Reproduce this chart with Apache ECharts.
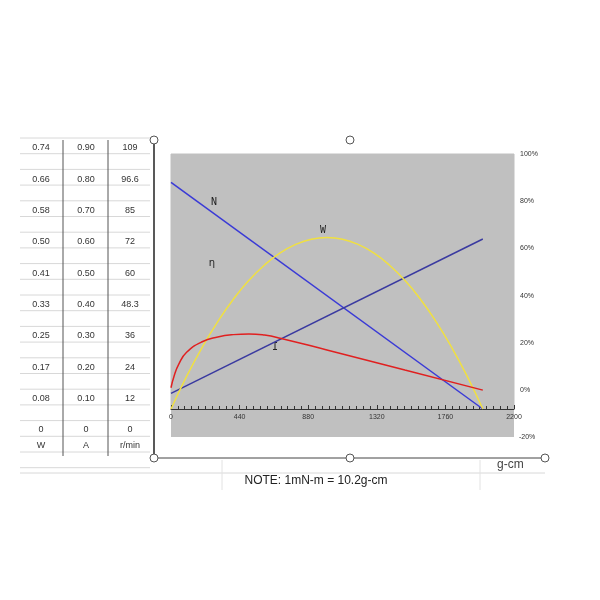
<!DOCTYPE html>
<html>
<head>
<meta charset="utf-8">
<script src="https://cdn.jsdelivr.net/npm/echarts@6/dist/echarts.min.js"></script>
<style>html,body{margin:0;background:#fff}#c{width:600px;height:600px}</style>
</head>
<body>
<div id="c"></div>
<script>
// table columns (left side of the sheet)
var colW = ['0.74','0.66','0.58','0.50','0.41','0.33','0.25','0.17','0.08','0'];
var colA = ['0.90','0.80','0.70','0.60','0.50','0.40','0.30','0.20','0.10','0'];
var colN = ['109','96.6','85','72','60','48.3','36','24','12','0'];
var units = ['W','A','r/min'];

// curves: [g-cm, percent on the right scale]
var speedN = [[0, 88], [2000, -8]];
var currentI = [[0, -1.4], [2000, 64]];
var powerW = [[0,-8],[100,5.8],[200,18.1],[300,29],[400,38.5],[500,46.5],[600,53],[700,58.1],
  [800,61.7],[900,63.9],[1000,64.6],[1100,63.9],[1200,61.7],[1300,58.1],[1400,53],[1500,46.5],
  [1600,38.5],[1700,29],[1800,18.1],[1900,5.8],[2000,-8]];
var effEta = [[0,1],[20,6],[50,11],[100,16],[200,20.5],[300,22.5],[400,23.5],[500,23.8],
  [600,23.3],[700,22],[1000,17],[1500,8.5],[2000,0]];

var chart = echarts.init(document.getElementById('c'));
var g = [];
// sheet grid lines
for (var y = 138; y < 475; y += 15.7) {
    g.push({type:'line', shape:{x1:20,y1:y,x2:150,y2:y}, style:{stroke:'#d8d8d8',lineWidth:1}});
}
g.push({type:'line', shape:{x1:20,y1:473,x2:545,y2:473}, style:{stroke:'#d8d8d8',lineWidth:1}});
g.push({type:'line', shape:{x1:63,y1:140,x2:63,y2:456}, style:{stroke:'#555',lineWidth:1}});
g.push({type:'line', shape:{x1:108,y1:140,x2:108,y2:456}, style:{stroke:'#555',lineWidth:1}});
[222, 480].forEach(function (x) {
    g.push({type:'line', shape:{x1:x,y1:460,x2:x,y2:490}, style:{stroke:'#e2e2e2',lineWidth:1}});
});
var cx = [41, 86, 130];
[colW, colA, colN].forEach(function (col, c) {
    col.forEach(function (t, i) {
        g.push({type:'text', x:cx[c], y:148 + i * 31.3, style:{text:t, fill:'#333', font:'9px Arial', align:'center', verticalAlign:'middle'}});
    });
    g.push({type:'text', x:cx[c], y:446, style:{text:units[c], fill:'#333', font:'9px Arial', align:'center', verticalAlign:'middle'}});
});
// chart frame lines and handles
g.push({type:'line', shape:{x1:154,y1:140,x2:154,y2:458}, style:{stroke:'#222',lineWidth:1.5}});
g.push({type:'line', shape:{x1:154,y1:458,x2:545,y2:458}, style:{stroke:'#444',lineWidth:1}});
[[154,140],[350,140],[154,458],[350,458],[545,458]].forEach(function (p) {
    g.push({type:'circle', shape:{cx:p[0],cy:p[1],r:4}, style:{fill:'#fff',stroke:'#555',lineWidth:1}});
});
// grey area below axis line
g.push({type:'rect', shape:{x:171,y:409,width:343,height:28}, style:{fill:'#c0c0c0'}, z:-1});
g.push({type:'text', x:519, y:437, style:{text:'-20%', fill:'#333', font:'7px Arial', verticalAlign:'middle'}});
// curve labels
g.push({type:'text', x:214, y:202, style:{text:'N', fill:'#222', font:'10px "DejaVu Sans Mono"', align:'center', verticalAlign:'middle'}});
g.push({type:'text', x:323, y:230, style:{text:'W', fill:'#222', font:'10px "DejaVu Sans Mono"', align:'center', verticalAlign:'middle'}});
g.push({type:'text', x:212, y:263, style:{text:'η', fill:'#222', font:'10px "DejaVu Sans"', align:'center', verticalAlign:'middle'}});
g.push({type:'text', x:275, y:347, style:{text:'I', fill:'#222', font:'10px "DejaVu Sans Mono"', align:'center', verticalAlign:'middle'}});
g.push({type:'text', x:497, y:465, style:{text:'g-cm', fill:'#444', font:'12px Arial', verticalAlign:'middle'}});
g.push({type:'text', x:316, y:481, style:{text:'NOTE: 1mN-m = 10.2g-cm', fill:'#222', font:'12px Arial', align:'center', verticalAlign:'middle'}});

function line(data, color) {
    return {type:'line', data:data, symbol:'none', smooth:true, lineStyle:{color:color, width:1.5}, z:3};
}

chart.setOption({
    animation: false,
    backgroundColor: '#fff',
    grid: {left:171, right:86, top:154, bottom:191, show:true, backgroundColor:'#c0c0c0', borderColor:'#c0c0c0'},
    xAxis: {
        type:'value', min:0, max:2200, interval:440,
        axisLine:{onZero:false, lineStyle:{color:'#333'}},
        axisTick:{inside:true, length:4, lineStyle:{color:'#333'}},
        minorTick:{show:true, splitNumber:10, length:3, lineStyle:{color:'#333'}},
        splitLine:{show:false},
        axisLabel:{color:'#333', fontSize:7, margin:5, formatter:function (v) { return String(v); }}
    },
    yAxis: {
        type:'value', position:'right', min:-8, max:100, interval:4,
        axisLine:{show:false},
        axisTick:{show:false},
        splitLine:{show:false},
        axisLabel:{color:'#333', fontSize:7, margin:6,
            formatter:function (v) { return (v % 20 === 0) ? v + '%' : ''; }}
    },
    series: [
        line(speedN, '#3a3ad6'),
        line(currentI, '#3a3aa0'),
        line(powerW, '#f0e040'),
        line(effEta, '#e02020')
    ],
    graphic: g
});
</script>
</body>
</html>
